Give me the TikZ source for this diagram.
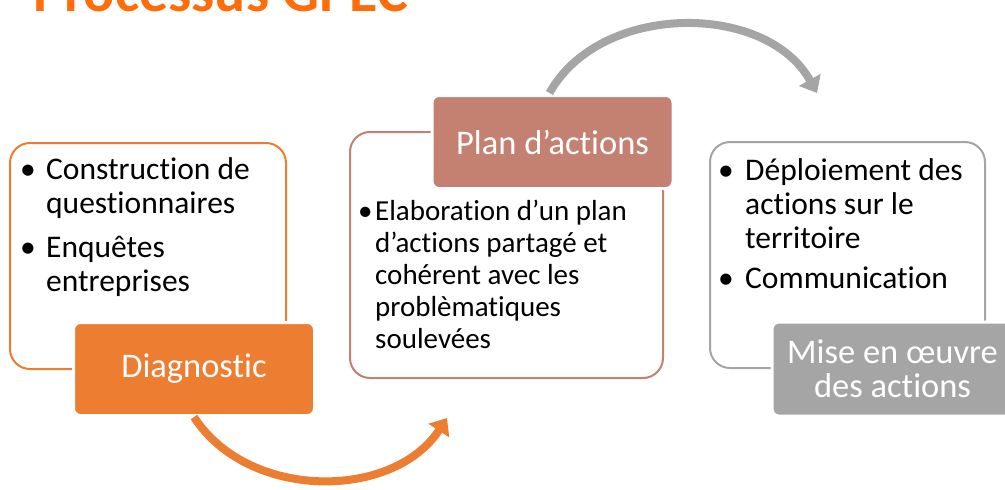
\documentclass[tikz,border=0pt]{standalone}
\usepackage{fontspec}
\setmainfont{Carlito}[Ligatures=NoCommon]
\usetikzlibrary{arrows.meta,positioning}
\definecolor{diagorange}{HTML}{ED7D31}
\definecolor{planrose}{HTML}{C48070}
\definecolor{misegray}{HTML}{A5A5A5}
\definecolor{titleorange}{HTML}{FF6D0A}
\newcommand{\puce}[2][16pt]{\par\spaceskip=0.226em\relax\hangindent=#1\hangafter=1\noindent\makebox[#1][l]{\textbullet}#2\par}

\begin{document}
\begin{tikzpicture}[x=1pt, y=-1pt,
    outbox/.style={draw=#1, line width=2pt, rounded corners=20pt, fill=white, inner sep=0pt},
    headbox/.style={fill=#1, draw=white, line width=3pt, rounded corners=7pt, text=white, align=center, inner sep=0pt, minimum width=241pt, minimum height=93pt, font=\fontsize{34.5}{34}\selectfont},
    puces/.style={anchor=north west, inner sep=0pt, text width=#1, align=left},
    flow/.style={line width=8pt, draw=#1, -{Triangle[width=24pt,length=15pt]}}]
    \useasboundingbox (0,0) rectangle (1005,490);
    \clip (0,0) rectangle (1005,490);

    \node[anchor=base west, inner sep=0pt, text=titleorange, font=\fontsize{58}{60}\selectfont\bfseries] (titre) at (33,11) {Processus GPEC};

    \node[outbox=diagorange, minimum width=276pt, minimum height=226pt] (diagcadre) at (148,256) {};
    \node[outbox=planrose, minimum width=313pt, minimum height=246pt] (plancadre) at (506.5,255) {};
    \node[outbox=misegray, minimum width=275pt, minimum height=226pt] (misecadre) at (847.5,255) {};

    \node[headbox=diagorange] (diag) at (194,369) {Diagnostic};
    \node[headbox=planrose] (plan) at (552.5,142) {Plan d’actions};
    \node[headbox=misegray, minimum height=94pt] (mise) at (892.5,369) {Mise en œuvre\\des actions};

    \node[puces=260pt, font=\fontsize{31.5}{34}\selectfont\setlength{\parskip}{10pt}] (diagtexte) at (20,135)
        {\puce[26pt]{Construction de\newline questionnaires}\puce[26pt]{Enquêtes\newline entreprises}};
    \node[puces=295pt, font=\fontsize{29}{32}\selectfont] (plantexte) at (358,188)
        {\puce[17pt]{Elaboration d’un plan\newline d’actions partagé et\newline cohérent avec les\newline problèmatiques\newline soulevées}};
    \node[puces=265pt, font=\fontsize{31.5}{34}\selectfont\setlength{\parskip}{6pt}] (misetexte) at (718,140)
        {\puce[27pt]{Déploiement des\newline actions sur le\newline territoire}\puce[27pt]{Communication}};

    \coordinate (versplan) at (447,418);
    \coordinate (versmise) at (817,93);
    \draw[flow=diagorange] (diag.south) to[bend right=57] (versplan);
    \draw[flow=misegray] (plan.north) ++(-3,-1) coordinate (depart) (depart) to[bend left=61] (versmise);
\end{tikzpicture}
\end{document}
